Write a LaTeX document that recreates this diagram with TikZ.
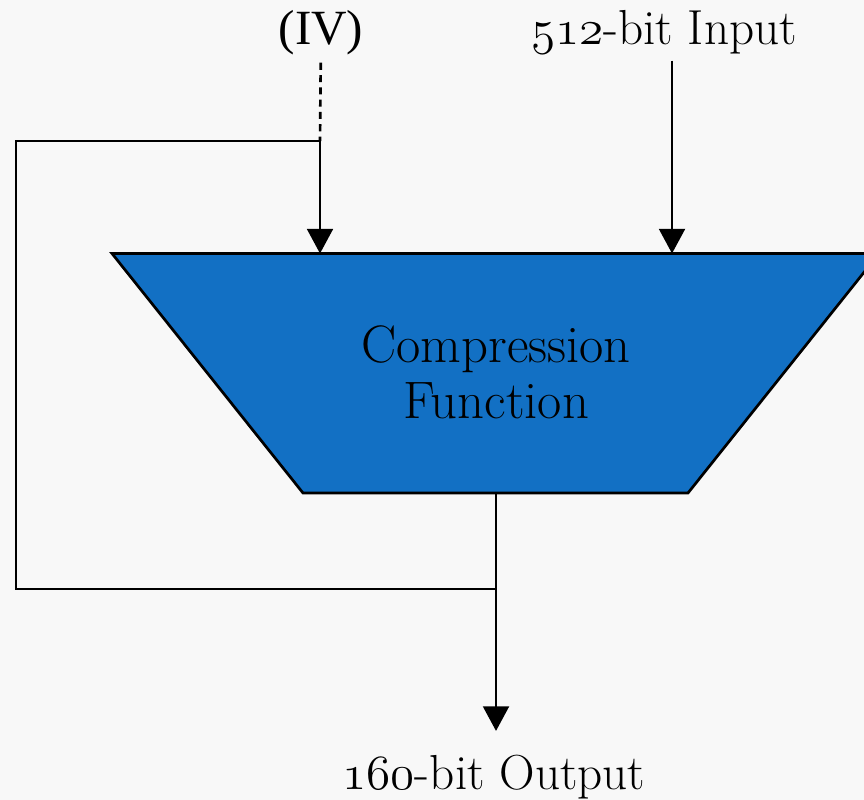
\RequirePackage{fix-cm}
\documentclass[tikz,border=0pt]{standalone}
\usepackage{fontspec}
\usepackage{xcolor}
\usetikzlibrary{arrows.meta}
\newfontfamily\ivfont{Liberation Serif}
\newcommand{\osnum}[1]{{\usefont{OML}{cmm}{m}{it}#1}}
\definecolor{cfblue}{RGB}{18,112,196}
\definecolor{paper}{RGB}{248,248,248}

\begin{document}
\begin{tikzpicture}[scale=0.3]
\tikzstyle{every node}+=[inner sep=0pt, font=\fontsize{42}{48}\selectfont]
\tikzstyle{wire}=[black, line width=2.3pt]
\tikzstyle{feed}=[wire, -{Triangle[width=22pt,length=21pt]}]
% page
\clip (0,0) rectangle (86.4,-80);
\fill [paper] (0,0) rectangle (86.4,-80);
% labels
\node [anchor=base] (iv) at (32.1,-4.5) {\ivfont (IV)};
\node [anchor=base] (msg) at (66.4,-4.5) {\osnum{512}-bit Input};
\node [anchor=base] (out) at (49.4,-78.9) {\osnum{160}-bit Output};
% compression block
\fill [cfblue, draw=black, line width=2.3pt] (11.2,-25.35) -- (87.9,-25.35) -- (68.8,-49.3) -- (30.3,-49.3) -- cycle;
\node [align=center, font=\fontsize{45}{48}\selectfont] (cf) at (49.6,-37.2) {Compression\\Function};
\coordinate (ivjoin) at (32,-14.1);
\coordinate (cfivin) at (32,-25.35);
\coordinate (cfmsgin) at (67.2,-25.35);
\coordinate (cfout) at (49.6,-49.3);
\coordinate (fb) at (49.6,-58.9);
\coordinate (fbcorner) at (1.6,-58.9);
% wires
\draw [wire, dash pattern=on 6pt off 4.5pt, shorten <=6pt] (iv) -- (ivjoin);
\draw [feed] (ivjoin) -- (cfivin);
\draw [feed, shorten <=5pt] (msg.south -| cfmsgin) -- (cfmsgin);
\draw [wire] (cfout) -- (fb) -- (fbcorner) |- (ivjoin);
\draw [feed, shorten >=20pt] (fb) -- (fb |- out.north);
\end{tikzpicture}
\end{document}
